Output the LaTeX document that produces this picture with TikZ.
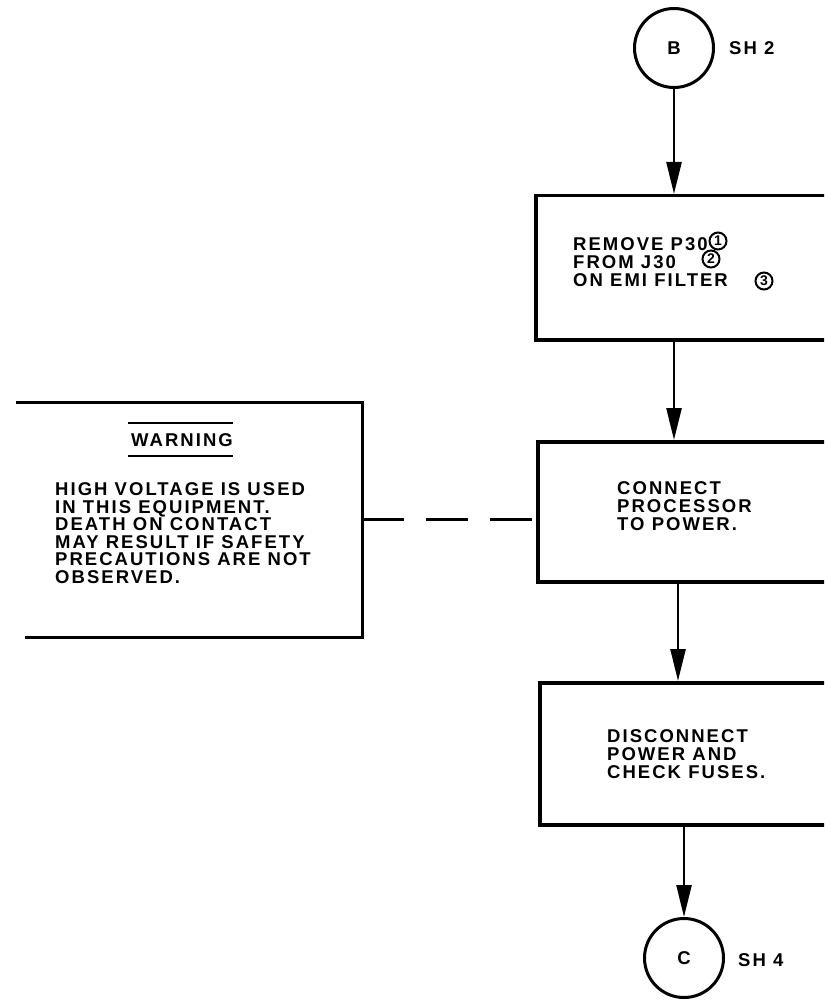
\documentclass[tikz,border=0pt]{standalone}
\usepackage{fontspec}
\setmainfont{Liberation Sans}[LetterSpace=11]
\usetikzlibrary{arrows.meta}

\tikzset{
  stepbox/.style={draw, line width=3.5pt, anchor=north west, inner sep=0pt,
    minimum width=420pt},
  flow/.style={line width=2.5pt, -{Triangle[length=32pt,width=15pt]}},
  lbl/.style={font=\bfseries\fontsize{18.5}{18}\selectfont, align=left,
    anchor=west, inner sep=0pt},
  offpage/.style={circle, draw, line width=3pt, minimum size=79pt, inner sep=0pt,
    font=\bfseries\fontsize{18.5}{18}\selectfont},
  numcirc/.style={circle, draw, line width=2pt, minimum size=17pt, inner sep=0pt,
    font=\bfseries\fontsize{14}{14}\selectfont},
  warnline/.style={line width=3pt},
}

\begin{document}
\begin{tikzpicture}[x=1pt, y=-1pt]
\useasboundingbox (0,0) rectangle (824,1000);
\clip (0,0) rectangle (824,1000);

% off-page connectors
\node[offpage] (b) at (674,48) {B};
\node[lbl] (sh2) at (729,48) {SH 2};
\node[offpage] (c) at (684,958) {C};
\node[lbl] (sh4) at (738,960) {SH 4};

% procedure steps (right side runs past the sheet edge)
\node[stepbox, minimum height=144pt] (s1) at (534,194) {};
\node[lbl] (t1) at (573,262) {REMOVE P30\\FROM J30\\ON EMI FILTER};
\node[numcirc] (n1) at (718,241) {1};
\node[numcirc] (n2) at (711,259) {2};
\node[numcirc] (n3) at (764,281) {3};

\node[stepbox, minimum height=140pt] (s2) at (536,440) {};
\node[lbl] (t2) at (617,506) {CONNECT\\PROCESSOR\\TO POWER.};

\node[stepbox, minimum height=142pt] (s3) at (538,681) {};
\node[lbl] (t3) at (607,754) {DISCONNECT\\POWER AND\\CHECK FUSES.};

% warning note (open on the left)
\node[minimum width=354pt, minimum height=235pt, inner sep=0pt, anchor=north east]
  (warn) at (362,402) {};
\draw[warnline] ([xshift=8pt]warn.north west) -- (warn.north east)
  -- (warn.south east) -- ([xshift=17pt]warn.south west);
\node[font=\bfseries\fontsize{18.5}{18}\selectfont, inner sep=0pt] (wh) at (182,440) {WARNING};
\draw[line width=2.5pt] (128,423) -- (233,423);
\draw[line width=2.5pt] (128,456) -- (233,456);
\node[lbl, font=\bfseries\fontsize{18.5}{17.5}\selectfont] (wb) at (55,533)
  {HIGH VOLTAGE IS USED\\IN THIS EQUIPMENT.\\DEATH ON CONTACT\\MAY RESULT IF SAFETY\\PRECAUTIONS ARE NOT\\OBSERVED.};

% connectors
\coordinate (mid) at (678,600);
\draw[flow] (b.south) -- (b.south |- s1.north);
\draw[flow] (s1.south -| b.south) -- (s2.north -| b.south);
\draw[flow] (s2.south -| mid) -- (s3.north -| mid);
\draw[flow] (s3.south -| c.north) -- (c.north);
\draw[line width=2.5pt, dash pattern=on 42pt off 22pt] (warn.east) -- (warn.east -| s2.west);
\end{tikzpicture}
\end{document}
